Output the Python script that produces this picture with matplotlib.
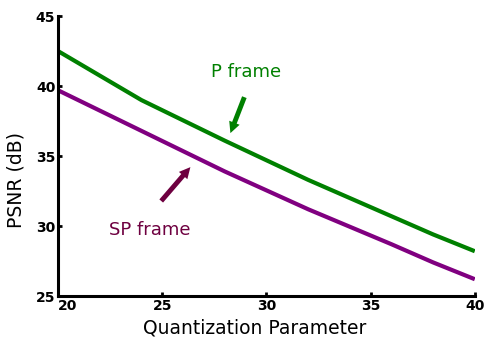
import matplotlib
matplotlib.use("Agg")
import matplotlib.pyplot as plt

# PSNR vs quantization parameter for P and SP frames
qp = [20, 24, 28, 32, 36, 38, 40]
psnr_p = [42.5, 39.0, 36.1, 33.3, 30.7, 29.4, 28.2]
psnr_sp = [39.7, 36.8, 33.9, 31.2, 28.7, 27.4, 26.2]

green = "#008000"
purple = "#800080"
maroon = "#6E0040"

fig = plt.figure(figsize=(4.84, 3.43), dpi=100)
ax = fig.add_axes([0.12, 0.137, 0.861, 0.816])

ax.plot(qp, psnr_p, color=green, lw=3.0, solid_capstyle="butt")
ax.plot(qp, psnr_sp, color=purple, lw=3.0, solid_capstyle="butt")

ax.set_xlim(20, 40)
ax.set_ylim(25, 45)
ax.set_xticks([20, 25, 30, 35, 40])
ax.set_yticks([25, 30, 35, 40, 45])

for side in ["top", "right"]:
    ax.spines[side].set_visible(False)
for side in ["left", "bottom"]:
    ax.spines[side].set_linewidth(2.2)
ax.tick_params(direction="in", length=3, width=2, pad=2)
for lbl in ax.get_xticklabels() + ax.get_yticklabels():
    lbl.set_fontweight("bold")
    lbl.set_fontsize(10)
ax.get_xticklabels()[0].set_horizontalalignment("left")

ax.set_xlabel("Quantization Parameter", fontsize=13.5)
ax.xaxis.set_label_coords(0.472, -0.082)
ax.set_ylabel("PSNR (dB)", fontsize=13.5)
ax.yaxis.set_label_coords(-0.079, 0.414)

# labels with arrows pointing to each curve
arrow = "simple,head_width=0.8,head_length=0.8,tail_width=0.35"
ax.text(29.04, 41.0, "P frame", color=green, fontsize=13, ha="center", va="center")
ax.annotate("", xy=(28.27, 36.64), xytext=(28.94, 39.21),
            arrowprops=dict(arrowstyle=arrow, color=green, lw=0,
                            shrinkA=0, shrinkB=0))
ax.text(24.42, 29.71, "SP frame", color=maroon, fontsize=13, ha="center", va="center")
ax.annotate("", xy=(26.35, 34.21), xytext=(24.95, 31.79),
            arrowprops=dict(arrowstyle=arrow, color=maroon, lw=0,
                            shrinkA=0, shrinkB=0))

fig.savefig("out.png", dpi=100, facecolor="white")
